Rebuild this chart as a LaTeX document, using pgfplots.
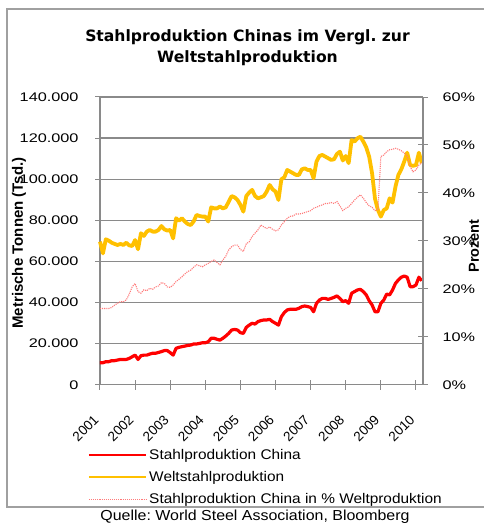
\documentclass[border=0pt]{standalone}
\usepackage{fontspec}
\usepackage{pgfplots}
\pgfplotsset{compat=1.18}
\usepackage{pgfplotstable}
\setmainfont{Liberation Sans}
\newfontfamily\tickfont{Liberation Sans}[FakeStretch=1.3]
\newfontfamily\legfont{Liberation Sans}[FakeStretch=1.1]
\newfontfamily\titlefont{DejaVu Sans}
\definecolor{wyellow}{HTML}{FFC000}
\definecolor{cred}{HTML}{FF0000}
\definecolor{ppink}{HTML}{FF7A7A}
\definecolor{gridgray}{HTML}{8A8A8A}
\definecolor{framegray}{HTML}{A0A0A0}

\pgfplotstableread{
m world china pct
0 69600 10700 15.9
1 63900 10700 15.9
2 70800 11200 15.9
3 70100 11200 15.9
4 69100 11700 16.1
5 68500 11700 16.6
6 68000 12000 17.0
7 68500 12300 17.3
8 68000 12300 17.3
9 69100 12300 17.7
10 67800 12800 18.9
11 67500 13600 20.4
12 70400 14400 21.1
13 65900 12300 19.4
14 73700 14100 19.1
15 72400 14400 19.8
16 74500 14400 19.6
17 75300 14900 20.1
18 74500 15300 19.9
19 74500 15300 20.4
20 75300 15700 20.6
21 77200 16100 21.3
22 75600 16600 21.1
23 75000 16600 20.4
24 75300 15600 20.3
25 71200 14400 20.8
26 81000 17700 21.5
27 79800 18200 22.0
28 81000 18500 22.5
29 79400 18800 23.1
30 78200 19100 23.6
31 77700 19300 23.9
32 79400 19800 24.5
33 82600 19800 25.0
34 82100 20100 24.8
35 81800 20400 24.6
36 81800 20400 25.0
37 79400 20900 25.3
38 86300 22600 25.7
39 85800 22600 26.0
40 85800 22100 25.5
41 86700 21700 25.0
42 85800 22600 26.0
43 86300 23700 26.8
44 89100 25000 28.1
45 91800 26600 28.8
46 91200 26900 29.1
47 89900 26600 29.1
48 87500 25300 28.2
49 84200 25000 27.8
50 91800 27900 29.4
51 93500 29000 29.8
52 94800 29900 30.9
53 91800 29500 31.6
54 90700 30700 32.3
55 91200 31200 33.3
56 91800 31500 32.9
57 94000 31500 32.6
58 97200 31800 32.9
59 95100 30700 32.4
60 94000 29900 32.1
61 89900 29000 32.3
62 100000 33100 33.3
63 100900 35100 34.0
64 104500 36400 34.7
65 103700 36700 35.1
66 102900 36700 35.2
67 102100 36700 35.6
68 102100 37200 35.6
69 104800 38000 35.7
70 105300 38300 35.9
71 104500 38000 36.1
72 104500 37600 36.3
73 100500 35500 36.8
74 108600 39600 37.0
75 111300 41200 37.3
76 111800 42000 37.5
77 111000 42000 37.8
78 110200 41500 37.8
79 109400 42000 38.0
80 109700 42500 37.8
81 112300 43200 38.2
82 113400 42000 37.3
83 109100 40400 36.3
84 111300 40900 36.8
85 107800 39600 37.1
86 119100 44500 37.8
87 118300 45300 38.5
88 119900 46100 39.1
89 120700 46400 39.6
90 118300 45300 38.9
91 115500 43700 38.0
92 111000 40900 37.3
93 102900 38800 37.0
94 90500 35500 36.3
95 85000 35500 36.5
96 81800 39600 47.6
97 85000 41200 47.9
98 85800 44100 48.6
99 90700 43700 49.0
100 88600 46100 49.1
101 96400 49300 49.3
102 102100 51000 49.1
103 104800 52300 48.8
104 108600 52900 48.3
105 112900 52300 47.7
106 106900 47700 45.5
107 106500 47700 44.4
108 106900 48500 44.8
109 112900 52300 45.8
110 107800 50600 46.3
}\steeldata

\begin{document}
\frenchspacing
\begin{tikzpicture}
\useasboundingbox (-100pt,-140.3pt) rectangle (383pt,384.7pt);
\draw[framegray, line width=1.5pt] (395pt,375.7pt) -- (-93pt,375.7pt) -- (-93pt,-122.3pt) -- (395pt,-122.3pt);

\begin{axis}[
  at={(0pt,0pt)}, anchor=south west,
  scale only axis, width=323pt, height=287.7pt,
  xmin=2001, xmax=2010.2, ymin=0, ymax=140000,
  axis x line=bottom, axis y line=left,
  axis line style={-, gridgray, line width=1.2pt},
  xtick={2001,2002,2003,2004,2005,2006,2007,2008,2009,2010},
  xticklabels={2001,2002,2003,2004,2005,2006,2007,2008,2009,2010},
  ytick={0,20000,40000,60000,80000,100000,120000,140000},
  scaled y ticks=false,
  yticklabel={\pgfmathprintnumber[fixed,precision=0,1000 sep={.},assume math mode=true]{\tick}},
  tick align=center, major tick length=10pt,
  tick style={gridgray, line width=1pt},
  ymajorgrids, grid style={gridgray, line width=1.2pt},
  yticklabel style={font=\tickfont\fontsize{12.5pt}{14pt}\selectfont, text=black, xshift=-13pt},
  xticklabel style={font=\normalfont\fontsize{13.5pt}{15pt}\selectfont, text=black, xshift=-3pt, yshift=-27pt, rotate=45, anchor=east, inner sep=1pt},
  clip=false,
]
\addplot[wyellow, line width=3.8pt, line join=round] table[x expr=2001+\thisrow{m}/12, y=world] {\steeldata};
\addplot[cred, line width=3.2pt, line join=round] table[x expr=2001+\thisrow{m}/12, y=china] {\steeldata};
\end{axis}

\begin{axis}[
  at={(0pt,0pt)}, anchor=south west,
  scale only axis, width=323pt, height=287.7pt,
  xmin=2001, xmax=2010.2, ymin=0, ymax=60,
  axis x line=none, axis y line=right,
  axis line style={-, gridgray, line width=1.2pt},
  ytick={0,10,20,30,40,50,60},
  yticklabel={\pgfmathprintnumber[fixed,precision=0,assume math mode=true]{\tick}\%},
  tick align=center, major tick length=10pt,
  tick style={gridgray, line width=1pt},
  tick label style={font=\tickfont\fontsize{12.5pt}{14pt}\selectfont, text=black},
  yticklabel style={xshift=11pt},
  legend image code/.code={\draw[#1] (0pt,0pt) -- (57pt,0pt);},
  legend style={at={(-0.037,-0.215)}, anchor=north west, draw=none, fill=none,
    font=\legfont\fontsize{14pt}{16pt}\selectfont, row sep=5.5pt, inner sep=0pt,
    legend cell align=left, nodes={inner sep=2.5pt}},
]
\addlegendimage{cred, line width=1.5pt}
\addlegendentry{Stahlproduktion China}
\addlegendimage{wyellow, line width=1.5pt}
\addlegendentry{Weltstahlproduktion}
\addplot[ppink, line width=1.1pt, densely dotted] table[x expr=2001+\thisrow{m}/12, y=pct] {\steeldata};
\addlegendentry{Stahlproduktion China in \% Weltproduktion}
\end{axis}

\node[anchor=base, font=\titlefont\bfseries\fontsize{15.6pt}{18pt}\selectfont] at (147.5pt,343pt) {Stahlproduktion Chinas im Vergl. zur};
\node[anchor=base, font=\titlefont\bfseries\fontsize{15.6pt}{18pt}\selectfont] at (147.5pt,322pt) {Weltstahlproduktion};
\node[rotate=90, font=\bfseries\fontsize{15pt}{17pt}\selectfont] at (-81pt,141.7pt) {Metrische Tonnen (Tsd.)};
\node[rotate=90, font=\bfseries\fontsize{14.5pt}{17pt}\selectfont, inner sep=0pt] at (374pt,138.7pt) {Prozent};
\node[anchor=base, font=\legfont\fontsize{14.5pt}{17pt}\selectfont] at (155pt,-135.3pt) {Quelle: World Steel Association, Bloomberg};
\end{tikzpicture}
\end{document}
